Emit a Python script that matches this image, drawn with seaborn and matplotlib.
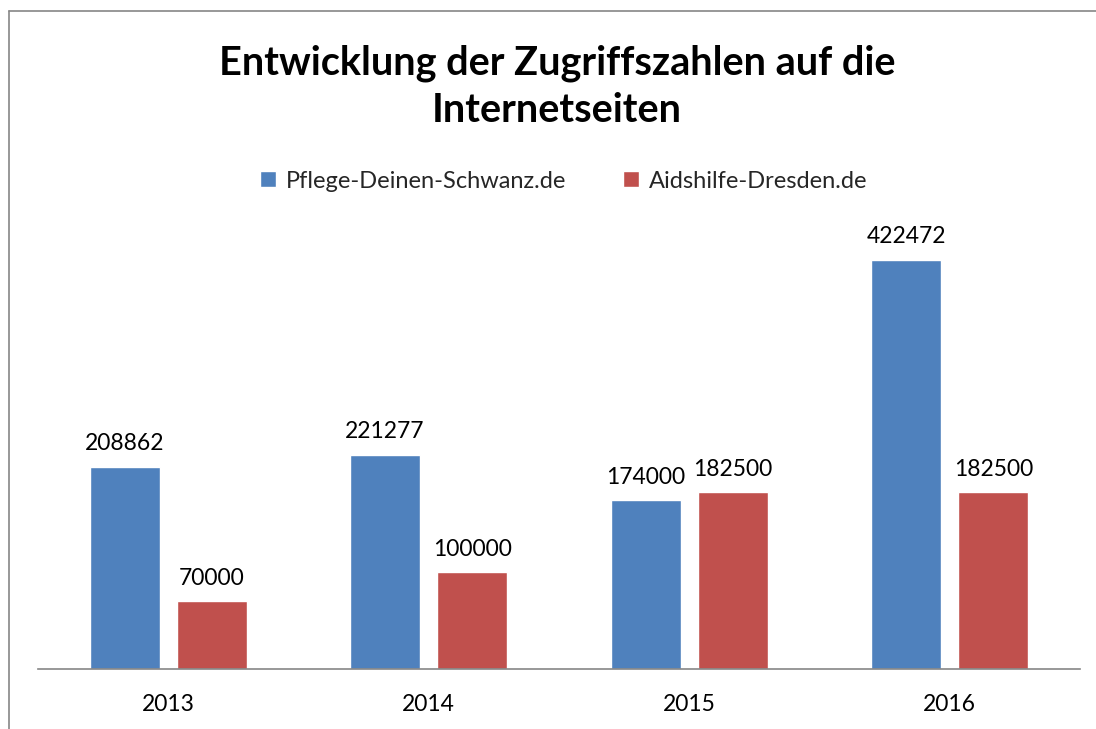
import matplotlib
matplotlib.use("Agg")
import matplotlib.pyplot as plt
import seaborn as sns
import pandas as pd
from matplotlib.lines import Line2D

years = ["2013", "2014", "2015", "2016"]
series_names = ["Pflege-Deinen-Schwanz.de", "Aidshilfe-Dresden.de"]
pflege = [208862, 221277, 174000, 422472]
aidshilfe = [70000, 100000, 182500, 182500]
title = "Entwicklung der Zugriffszahlen auf die\nInternetseiten"

df = pd.DataFrame({
    "Jahr": years * 2,
    "Serie": [series_names[0]] * 4 + [series_names[1]] * 4,
    "Wert": pflege + aidshilfe,
})

sns.set_theme(style="white")
plt.rcParams["font.family"] = ["Lato", "DejaVu Sans"]

fig = plt.figure(figsize=(10.96, 7.29), dpi=100)
ax = fig.add_axes([38 / 1096, 1 - 669 / 729, (1080 - 38) / 1096, (669 - 233) / 729])

sns.barplot(data=df, x="Jahr", y="Wert", hue="Serie", order=years, hue_order=series_names,
            palette=["#4F81BD", "#C0504D"], width=0.67, gap=0.2, saturation=1,
            ax=ax, legend=True)

ax.set_ylim(0, 450000)
ax.set_xlim(-0.5, 3.5)
ax.set_yticks([])
ax.set_xlabel("")
ax.set_ylabel("")
for s in ["top", "right", "left"]:
    ax.spines[s].set_visible(False)
ax.spines["bottom"].set_color("#868686")
ax.spines["bottom"].set_linewidth(1.2)
ax.tick_params(axis="x", length=0, pad=18, labelsize=16.5, colors="black")

for cont in ax.containers:
    ax.bar_label(cont, labels=[f"{int(v)}" for v in cont.datavalues], padding=9, fontsize=16.5, color="black")

h, l = ax.get_legend_handles_labels()
ax.get_legend().remove()
fig.legend(h, l, loc="center", bbox_to_anchor=(564 / 1096, 1 - 181 / 729), ncol=2, frameon=False,
           fontsize=17, handlelength=0.65, handleheight=0.65, handletextpad=0.45, columnspacing=2.4)

fig.text(557 / 1096, 1 - 87 / 729, title, ha="center", va="center", fontsize=28.5, fontweight="bold",
         linespacing=1.35, color="black")

fig.add_artist(Line2D([9 / 1096, 9 / 1096], [0, 1 - 11 / 729], color="#868686", lw=1.2, transform=fig.transFigure))
fig.add_artist(Line2D([9 / 1096, 1], [1 - 11 / 729, 1 - 11 / 729], color="#868686", lw=1.2, transform=fig.transFigure))

fig.savefig("out.png", dpi=100)
